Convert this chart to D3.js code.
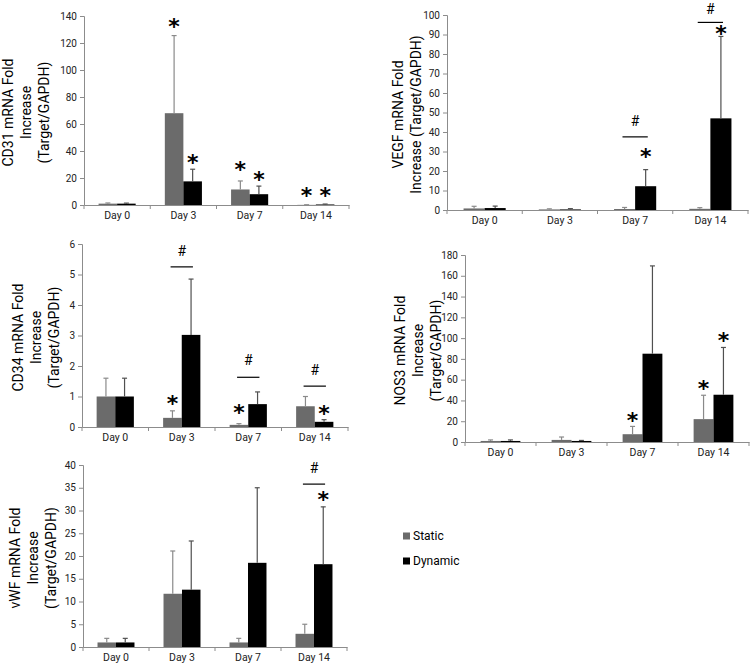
<!DOCTYPE html>
<html><head><meta charset="utf-8">
<script src="https://cdn.jsdelivr.net/npm/d3@7"></script>
<style>
body{margin:0;background:#fff;}
svg{display:block;font-family:Roboto,sans-serif;}
</style></head>
<body><svg id="c" width="750" height="666"></svg>
<script>
// ---- data ----
const days = ["Day 0", "Day 3", "Day 7", "Day 14"];
const seriesNames = ["Static", "Dynamic"];

const cd31Static = [1.0, 68, 11.5, 0.1];
const cd31StaticSD = [0.5, 57.5, 6.3, 0.1];
const cd31Dynamic = [1.0, 17.5, 8.0, 0.4];
const cd31DynamicSD = [0.4, 9.0, 6.0, 0.3];
const cd31Ticks = [0, 20, 40, 60, 80, 100, 120, 140];
const cd31Stars = [["Day 3", 0, 135.3], ["Day 3", 1, 34.8], ["Day 7", 0, 29.3], ["Day 7", 1, 22.4], ["Day 14", 0, 10.6], ["Day 14", 1, 10.6]];
const cd31Hashes = [];

const vegfStatic = [0.8, 0.3, 0.5, 0.6];
const vegfStaticSD = [1.1, 0.3, 0.8, 0.6];
const vegfDynamic = [1.0, 0.3, 12.2, 47];
const vegfDynamicSD = [1.0, 0.4, 8.5, 42];
const vegfTicks = [0, 10, 20, 30, 40, 50, 60, 70, 80, 90, 100];
const vegfStars = [["Day 7", 1, 29.8], ["Day 14", 1, 92.6]];
const vegfHashes = [["Day 7", 45.5, 37.5], ["Day 14", 103, 96.2]];

const cd34Static = [1.0, 0.30, 0.07, 0.68];
const cd34StaticSD = [0.6, 0.23, 0.04, 0.32];
const cd34Dynamic = [1.0, 3.02, 0.75, 0.17];
const cd34DynamicSD = [0.6, 1.83, 0.40, 0.07];
const cd34Ticks = [0, 1, 2, 3, 4, 5, 6];
const cd34Stars = [["Day 3", 0, 0.91], ["Day 7", 0, 0.62], ["Day 14", 1, 0.6]];
const cd34Hashes = [["Day 3", 5.77, 5.25], ["Day 7", 2.19, 1.63], ["Day 14", 1.88, 1.34]];

const nos3Static = [1.0, 2.0, 7.5, 22];
const nos3StaticSD = [1.0, 2.8, 7.5, 23];
const nos3Dynamic = [1.0, 1.0, 85, 45.5];
const nos3DynamicSD = [1.0, 0.5, 84.5, 45.5];
const nos3Ticks = [0, 20, 40, 60, 80, 100, 120, 140, 160, 180];
const nos3Stars = [["Day 7", 0, 25], ["Day 14", 0, 55.7], ["Day 14", 1, 102]];
const nos3Hashes = [];

const vwfStatic = [1.0, 11.7, 1.0, 2.9];
const vwfStaticSD = [0.9, 9.4, 0.9, 2.1];
const vwfDynamic = [1.0, 12.6, 18.5, 18.2];
const vwfDynamicSD = [0.9, 10.7, 16.5, 12.6];
const vwfTicks = [0, 5, 10, 15, 20, 25, 30, 35, 40];
const vwfStars = [["Day 14", 1, 33.3]];
const vwfHashes = [["Day 14", 39.4, 35.8]];

const cd31Label = ["CD31 mRNA Fold", "Increase", "(Target/GAPDH)"];
const vegfLabel = ["VEGF mRNA Fold", "Increase (Target/GAPDH)"];
const cd34Label = ["CD34 mRNA Fold", "Increase", "(Target/GAPDH)"];
const nos3Label = ["NOS3 mRNA Fold", "Increase", "(Target/GAPDH)"];
const vwfLabel = ["vWF mRNA Fold", "Increase", "(Target/GAPDH)"];

// ---- layout ----
const panels = [
  {label: cd31Label, s: cd31Static, ss: cd31StaticSD, d: cd31Dynamic, ds: cd31DynamicSD, ticks: cd31Ticks, stars: cd31Stars, hashes: cd31Hashes,
   x0: 84, x1: 349, yTop: 16, yBot: 205, labX: [-76, -58, -40]},
  {label: vegfLabel, s: vegfStatic, ss: vegfStaticSD, d: vegfDynamic, ds: vegfDynamicSD, ticks: vegfTicks, stars: vegfStars, hashes: vegfHashes,
   x0: 447, x1: 748, yTop: 15, yBot: 210, labX: [-49, -31]},
  {label: cd34Label, s: cd34Static, ss: cd34StaticSD, d: cd34Dynamic, ds: cd34DynamicSD, ticks: cd34Ticks, stars: cd34Stars, hashes: cd34Hashes,
   x0: 82, x1: 348, yTop: 244, yBot: 427, labX: [-64, -46, -28]},
  {label: nos3Label, s: nos3Static, ss: nos3StaticSD, d: nos3Dynamic, ds: nos3DynamicSD, ticks: nos3Ticks, stars: nos3Stars, hashes: nos3Hashes,
   x0: 465, x1: 749, yTop: 255, yBot: 442, labX: [-65, -47, -29]},
  {label: vwfLabel, s: vwfStatic, ss: vwfStaticSD, d: vwfDynamic, ds: vwfDynamicSD, ticks: vwfTicks, stars: vwfStars, hashes: vwfHashes,
   x0: 83, x1: 347, yTop: 465, yBot: 647, labX: [-68, -50, -32]}
];

const colors = ["#6b6b6b", "#000000"];
const errColors = ["#8a8a8a", "#505050"];
const axisColor = "#8c8c8c";
const svg = d3.select("#c");

panels.forEach(p => {
  const g = svg.append("g");
  const x = d3.scaleBand().domain(days).range([p.x0, p.x1]).padding(0);
  const y = d3.scaleLinear().domain([0, d3.max(p.ticks)]).range([p.yBot, p.yTop]);
  const bw = x.bandwidth() * 0.28;
  const sub = d3.scaleBand().domain([0, 1]).range([-bw, bw]).padding(0);
  const cx = (day, k) => x(day) + x.bandwidth() / 2 + sub(k) + bw / 2;

  // bars
  [[p.s, p.ss], [p.d, p.ds]].forEach(([vals, sds], k) => {
    const data = days.map((day, i) => ({day, v: vals[i], sd: sds[i]}));
    g.selectAll(null).data(data).enter().append("rect")
      .attr("x", d => x(d.day) + x.bandwidth() / 2 + sub(k))
      .attr("y", d => y(d.v))
      .attr("width", bw)
      .attr("height", d => y(0) - y(d.v))
      .attr("fill", colors[k]);
    const eg = g.selectAll(null).data(data).enter().append("g").attr("stroke", errColors[k]).attr("stroke-width", 1.2);
    eg.append("line")
      .attr("x1", d => cx(d.day, k)).attr("x2", d => cx(d.day, k))
      .attr("y1", d => y(d.v)).attr("y2", d => y(d.v + d.sd));
    eg.append("line")
      .attr("x1", d => cx(d.day, k) - 2.5).attr("x2", d => cx(d.day, k) + 2.5)
      .attr("y1", d => y(d.v + d.sd)).attr("y2", d => y(d.v + d.sd));
  });

  // y axis
  const ya = g.append("g").attr("transform", `translate(${p.x0},0)`)
    .call(d3.axisLeft(y).tickValues(p.ticks).tickSize(4).tickPadding(3).tickFormat(d3.format("d")));
  ya.selectAll("path,line").attr("stroke", axisColor);
  ya.selectAll("text").attr("font-size", 10).attr("fill", "#222").attr("font-family", "Roboto");

  // x axis
  const xa = g.append("g").attr("transform", `translate(0,${p.yBot})`)
    .call(d3.axisBottom(x).tickSize(0).tickPadding(7));
  xa.select("path").attr("stroke", axisColor);
  xa.selectAll("text").attr("font-size", 10.5).attr("fill", "#222").attr("font-family", "Roboto");
  const bounds = days.map(d => x(d)).concat([p.x1]);
  g.selectAll(null).data(bounds).enter().append("line")
    .attr("x1", d => d).attr("x2", d => d)
    .attr("y1", p.yBot).attr("y2", p.yBot + 4).attr("stroke", axisColor);

  // y label
  const ymid = (p.yTop + p.yBot) / 2 + 2;
  p.label.forEach((t, i) => {
    g.append("text")
      .attr("transform", `translate(${p.x0 + p.labX[i]},${ymid}) rotate(-90)`)
      .attr("text-anchor", "middle").attr("dominant-baseline", "central")
      .attr("font-size", 14).attr("fill", "#000").text(t);
  });

  // stars
  g.selectAll(null).data(p.stars).enter().append("text")
    .attr("x", d => cx(d[0], d[1]))
    .attr("y", d => y(d[2]) + 12)
    .attr("text-anchor", "middle").attr("font-size", 22).attr("font-family", "DejaVu Sans").attr("font-weight", "bold")
    .text("*");
  // hashes
  g.selectAll(null).data(p.hashes).enter().append("text")
    .attr("x", d => x(d[0]) + x.bandwidth() / 2)
    .attr("y", d => y(d[1]) + 5)
    .attr("text-anchor", "middle").attr("font-size", 14).attr("font-family", "Roboto")
    .text("#");
  g.selectAll(null).data(p.hashes).enter().append("line")
    .attr("x1", d => x(d[0]) + x.bandwidth() / 2 - bw * 0.6)
    .attr("x2", d => x(d[0]) + x.bandwidth() / 2 + bw * 0.6)
    .attr("y1", d => y(d[2])).attr("y2", d => y(d[2]))
    .attr("stroke", "#000").attr("stroke-width", 1.2);
});

// legend
const lg = svg.append("g");
seriesNames.forEach((n, i) => {
  const yy = 536 + i * 25;
  lg.append("rect").attr("x", 403).attr("y", yy - 3.5).attr("width", 7).attr("height", 7).attr("fill", colors[i]);
  lg.append("text").attr("x", 413).attr("y", yy).attr("dominant-baseline", "central")
    .attr("font-size", 12).attr("fill", "#000").text(n);
});
</script></body></html>
